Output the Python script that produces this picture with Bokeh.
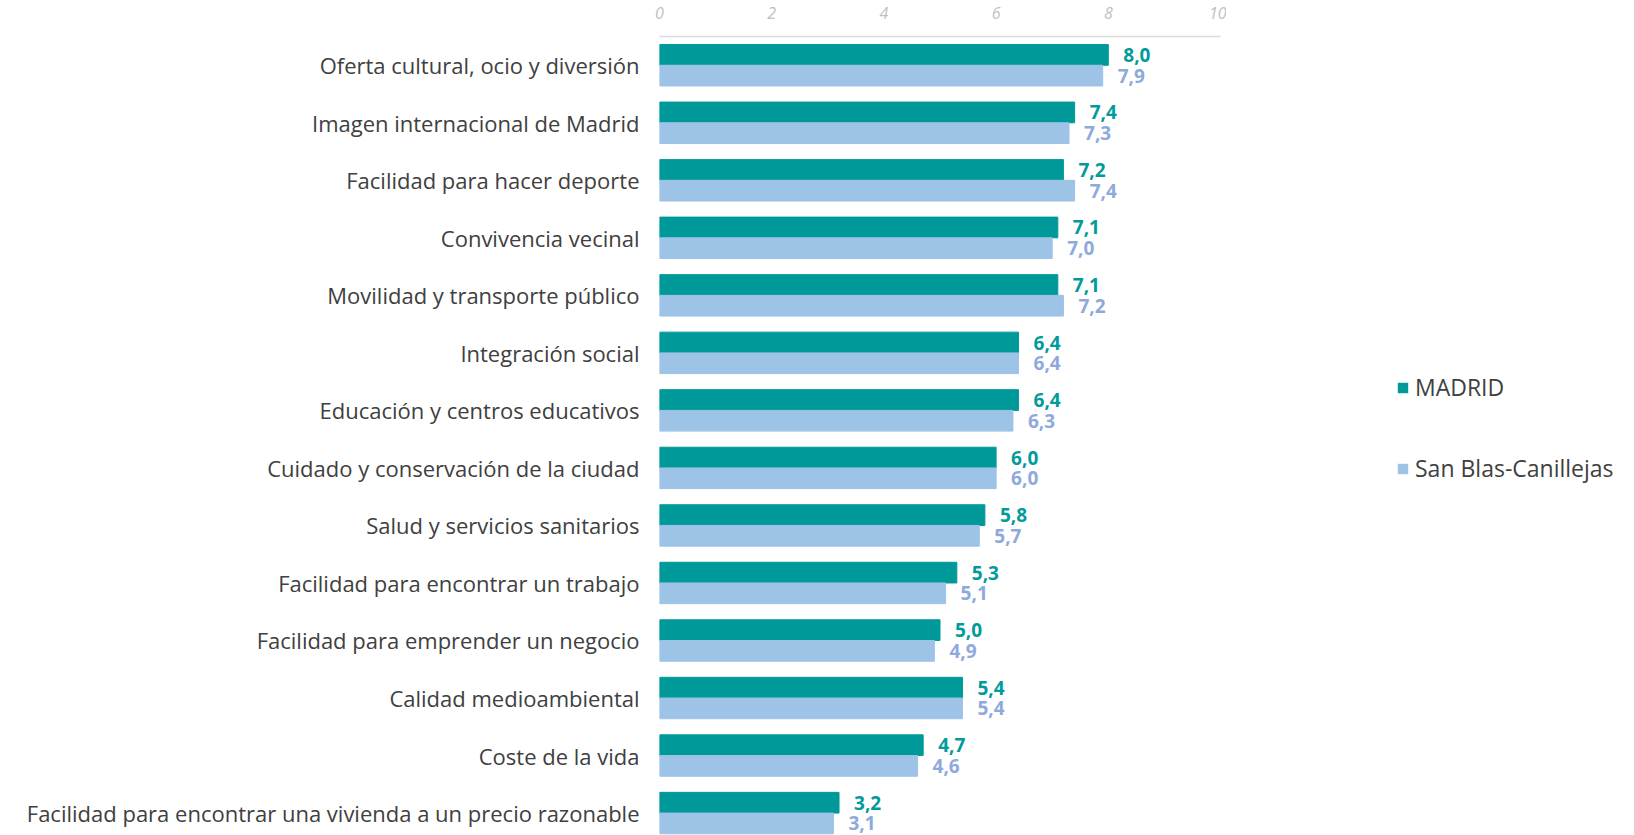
from bokeh.plotting import figure
from bokeh.models import Range1d, FixedTicker, ColumnDataSource, Legend, LegendItem
from bokeh.layouts import row
from bokeh.core.properties import value
from bokeh.embed import file_html
from bokeh.resources import INLINE

categories = [
    "Oferta cultural, ocio y diversión",
    "Imagen internacional de Madrid",
    "Facilidad para hacer deporte",
    "Convivencia vecinal",
    "Movilidad y transporte público",
    "Integración social",
    "Educación y centros educativos",
    "Cuidado y conservación de la ciudad",
    "Salud y servicios sanitarios",
    "Facilidad para encontrar un trabajo",
    "Facilidad para emprender un negocio",
    "Calidad medioambiental",
    "Coste de la vida",
    "Facilidad para encontrar una vivienda a un precio razonable",
]
madrid = [8.0, 7.4, 7.2, 7.1, 7.1, 6.4, 6.4, 6.0, 5.8, 5.3, 5.0, 5.4, 4.7, 3.2]
sanblas = [7.9, 7.3, 7.4, 7.0, 7.2, 6.4, 6.3, 6.0, 5.7, 5.1, 4.9, 5.4, 4.6, 3.1]
series_names = ["MADRID", "San Blas-Canillejas"]
x_ticks = [0, 2, 4, 6, 8, 10]

FONT = "Open Sans"
TEAL = "#009999"
TEAL_TXT = "#009B9A"
BLUE = "#9DC3E6"
BLUE_TXT = "#8EA9DB"
DARK = "#404040"

idx = list(range(len(categories)))
off = 0.18
h = 0.36

src_m = ColumnDataSource(dict(y=[i - off for i in idx], v=madrid,
                              t=[f"{v:.1f}".replace(".", ",") for v in madrid]))
src_s = ColumnDataSource(dict(y=[i + off for i in idx], v=sanblas,
                              t=[f"{v:.1f}".replace(".", ",") for v in sanblas]))

H = 835
p = figure(width=1226, height=H, output_backend="svg", toolbar_location=None,
           x_range=Range1d(0, 10), y_range=Range1d(13.39, -0.5),
           x_axis_location="above", min_border_left=659, min_border_right=6,
           min_border_top=36, min_border_bottom=0)
p.outline_line_color = None
p.grid.visible = False

r_m = p.hbar(y="y", right="v", left=0, height=h, color=TEAL, source=src_m)
r_s = p.hbar(y="y", right="v", left=0, height=h, color=BLUE, source=src_s)

p.text(x="v", y="y", text="t", source=src_m, x_offset=15, text_align="left",
       text_baseline="middle", text_font=value(FONT), text_font_style="bold",
       text_font_size="19px", text_color=TEAL_TXT)
p.text(x="v", y="y", text="t", source=src_s, x_offset=15, text_align="left",
       text_baseline="middle", text_font=value(FONT), text_font_style="bold",
       text_font_size="19px", text_color=BLUE_TXT)

xa = p.xaxis[0]
xa.ticker = FixedTicker(ticks=x_ticks)
xa.major_tick_line_color = None
xa.minor_tick_line_color = None
xa.axis_line_color = "#D9D9D9"
xa.axis_line_width = 1.5
xa.major_label_text_color = "#BFBFBF"
xa.major_label_text_font = FONT
xa.major_label_text_font_style = "italic"
xa.major_label_text_font_size = "16px"
xa.major_label_standoff = 12

ya = p.yaxis[0]
ya.ticker = FixedTicker(ticks=idx)
ya.major_label_overrides = {i: c for i, c in zip(idx, categories)}
ya.major_tick_line_color = None
ya.minor_tick_line_color = None
ya.axis_line_color = None
ya.major_label_text_color = DARK
ya.major_label_text_font = FONT
ya.major_label_text_font_size = "22px"
ya.major_label_standoff = 14

# legend panel
p2 = figure(width=392, height=H, output_backend="svg", toolbar_location=None,
            x_range=Range1d(0, 1), y_range=Range1d(0, 1),
            min_border_left=0, min_border_right=0, min_border_top=0, min_border_bottom=0)
p2.outline_line_color = None
p2.grid.visible = False
p2.axis.visible = False
lm = p2.hbar(y=[0.5], left=[0], right=[0], height=0, fill_color=TEAL, line_color=None)
ls = p2.hbar(y=[0.5], left=[0], right=[0], height=0, fill_color=BLUE, line_color=None)

legend = Legend(items=[LegendItem(label=series_names[0], renderers=[lm]),
                       LegendItem(label=series_names[1], renderers=[ls])],
                location=(170, 351), orientation="vertical")
legend.border_line_color = None
legend.background_fill_alpha = 0
legend.padding = 0
legend.margin = 0
legend.spacing = 49
legend.glyph_width = 13
legend.glyph_height = 13
legend.label_standoff = 6
legend.label_text_font = FONT
legend.label_text_font_size = "23px"
legend.label_text_color = DARK
legend.label_height = 30
legend.label_text_baseline = "middle"
p2.add_layout(legend, "center")

layout = row(p, p2, spacing=0)
open("out.html", "w").write(file_html(layout, INLINE))
